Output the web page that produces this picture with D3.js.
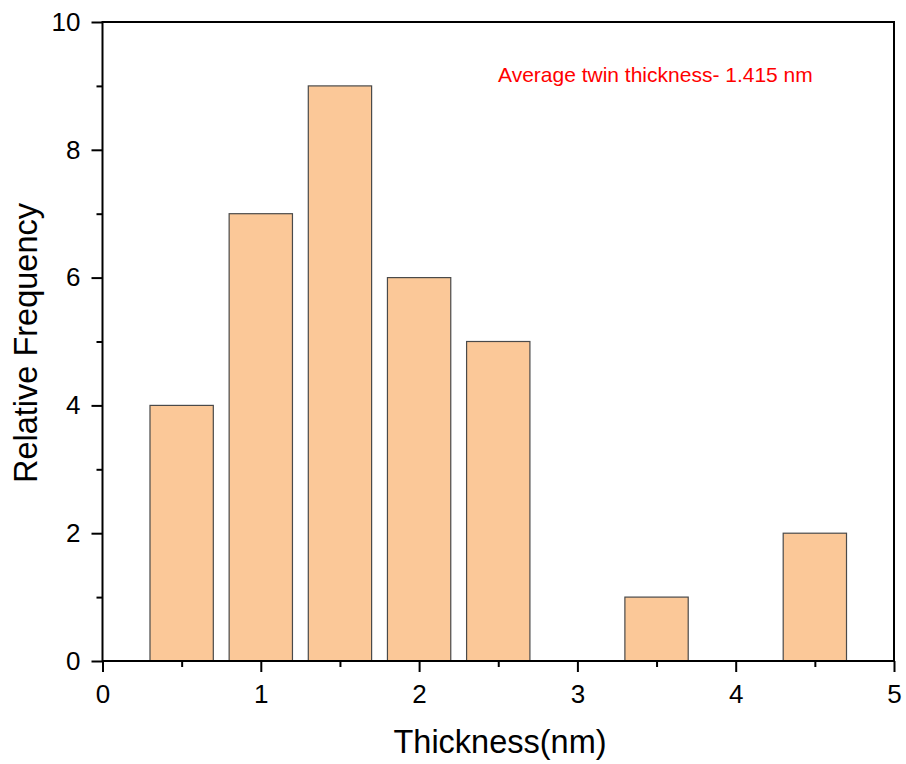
<!DOCTYPE html>
<html><head><meta charset="utf-8">
<script src="https://cdn.jsdelivr.net/npm/d3@7"></script>
<style>body{margin:0;background:#fff}svg{display:block;font-family:"Liberation Sans",Arial,sans-serif}</style>
</head><body>
<svg id="c" width="906" height="764"></svg>
<script>
const binCenters = [0.5, 1.0, 1.5, 2.0, 2.5, 3.0, 3.5, 4.0, 4.5];
const counts = [4, 7, 9, 6, 5, 0, 1, 0, 2];
const binWidth = 0.4;
const xTicks = [0, 1, 2, 3, 4, 5];
const xMinor = [0.5, 1.5, 2.5, 3.5, 4.5];
const yTicks = [0, 2, 4, 6, 8, 10];
const yMinor = [1, 3, 5, 7, 9];
const annotation = "Average twin thickness- 1.415 nm";

const svg = d3.select("#c");
const L = 102.5, R = 894, T = 22, B = 661;
const x = d3.scaleLinear().domain([0, 5]).range([L, R]);
const y = d3.scaleLinear().domain([0, 10]).range([B, T]);

// bars
svg.append("g").selectAll("rect").data(binCenters.map((c,i)=>({c, v:counts[i]})).filter(d=>d.v>0))
  .join("rect")
  .attr("x", d => x(d.c - binWidth/2))
  .attr("width", d => x(d.c + binWidth/2) - x(d.c - binWidth/2))
  .attr("y", d => y(d.v))
  .attr("height", d => y(0) - y(d.v))
  .attr("fill", "#FBC898").attr("stroke", "#4a4a4a").attr("stroke-width", 1.2);

// frame
svg.append("rect").attr("x", L).attr("y", T).attr("width", R-L).attr("height", B-T)
  .attr("fill","none").attr("stroke","#000").attr("stroke-width",2);

// x axis
const gx = svg.append("g").attr("transform", `translate(0,${B})`);
gx.call(d3.axisBottom(x).tickValues(xTicks).tickSize(11).tickPadding(13).tickFormat(d3.format("d")));
gx.append("g").call(d3.axisBottom(x).tickValues(xMinor).tickSize(6).tickFormat(""));
// y axis
const gy = svg.append("g").attr("transform", `translate(${L},0)`);
gy.call(d3.axisLeft(y).tickValues(yTicks).tickSize(11).tickPadding(11).tickFormat(d3.format("d")));
gy.append("g").call(d3.axisLeft(y).tickValues(yMinor).tickSize(6).tickFormat(""));
svg.selectAll(".domain").remove();
svg.selectAll(".tick line").attr("stroke","#000").attr("stroke-width",2);
svg.selectAll(".tick text").attr("font-size",26).attr("fill","#000").attr("font-family","'Liberation Sans',Arial,sans-serif");

// titles
svg.append("text").attr("x", 500).attr("y", 753).attr("text-anchor","middle")
  .attr("font-size",32.5).text("Thickness(nm)");
svg.append("text").attr("transform", `translate(37,343) rotate(-90)`).attr("text-anchor","middle")
  .attr("font-size",32.5).text("Relative Frequency");
svg.append("text").attr("x", 498).attr("y", 82).attr("fill","#ff0000").attr("font-size",21).text(annotation);
</script>
</body></html>
